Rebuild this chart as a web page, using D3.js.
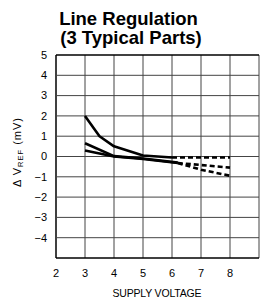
<!DOCTYPE html>
<html><head><meta charset="utf-8">
<script src="https://cdn.jsdelivr.net/npm/d3@7"></script>
<style>body{margin:0;background:#fff}svg{display:block}</style>
</head><body>
<script>
const xTicks = [2,3,4,5,6,7,8];
const yTicks = [5,4,3,2,1,0,-1,-2,-3,-4];
const gridX = [2,3,4,5,6,7,8,9];
const gridY = [5,4,3,2,1,0,-1,-2,-3,-4,-5];
// three typical parts: solid measured part and dashed extension
const partA = [[3,2],[3.5,1],[4,0.5],[5,0.05],[6,-0.05]];
const partB = [[3,0.65],[4,0.02],[5,-0.1],[6.2,-0.3]];
const partC = [[3,0.3],[4,0],[5,-0.12],[6.2,-0.32]];
const dashA = [[6,-0.05],[8,-0.05]];
const dashB = [[6.2,-0.32],[7,-0.42],[8,-0.55]];
const dashC = [[6.2,-0.32],[7,-0.65],[8,-0.95]];

const W=260,H=300;
const svg=d3.select("body").append("svg").attr("width",W).attr("height",H);
const x=d3.scaleLinear().domain([2,9]).range([56,259]);
const y=d3.scaleLinear().domain([-5,5]).range([258,55]);

svg.append("g").selectAll("line").data(gridX).join("line")
 .attr("x1",d=>x(d)).attr("x2",d=>x(d)).attr("y1",y(5)).attr("y2",y(-5))
 .attr("stroke",d=>d===2?"#000":"#444").attr("stroke-width",d=>d===2?1.5:1);
svg.append("g").selectAll("line").data(gridY).join("line")
 .attr("x1",x(2)).attr("x2",x(9)).attr("y1",d=>y(d)).attr("y2",d=>y(d))
 .attr("stroke",d=>(d===5||d===-5)?"#000":"#444").attr("stroke-width",d=>(d===5||d===-5)?1.5:1);

const font="'Liberation Sans', Arial, sans-serif";
svg.append("g").selectAll("text").data(yTicks).join("text")
 .attr("x",47).attr("y",d=>y(d)).attr("dy","0.35em").attr("text-anchor","end")
 .attr("font-family",font).attr("font-size",11).text(d=>d<0?"\u2212"+(-d):d);
svg.append("g").selectAll("text").data(xTicks).join("text")
 .attr("x",d=>x(d)).attr("y",273).attr("dy","0.35em").attr("text-anchor","middle")
 .attr("font-family",font).attr("font-size",11).text(d=>d);

const line=d3.line().x(d=>x(d[0])).y(d=>y(d[1]));
[partA,partB,partC].forEach(p=>svg.append("path").attr("d",line(p)).attr("fill","none")
 .attr("stroke","#000").attr("stroke-width",2.6).attr("stroke-linejoin","round"));
[dashA,dashB,dashC].forEach(p=>svg.append("path").attr("d",line(p)).attr("fill","none")
 .attr("stroke","#000").attr("stroke-width",2.6).attr("stroke-dasharray","5,3"));

svg.append("text").attr("x",128.5).attr("y",25).attr("text-anchor","middle")
 .attr("font-family",font).attr("font-weight","bold").attr("font-size",18.5).text("Line Regulation");
svg.append("text").attr("x",131).attr("y",44).attr("text-anchor","middle")
 .attr("font-family",font).attr("font-weight","bold").attr("font-size",18.5).text("(3 Typical Parts)");

svg.append("text").attr("x",157).attr("y",293).attr("dy","0.35em").attr("text-anchor","middle")
 .attr("font-family",font).attr("font-size",10.5).attr("textLength",89).attr("lengthAdjust","spacing")
 .text("SUPPLY VOLTAGE");

const yl=svg.append("text").attr("transform","translate(21,152) rotate(-90)").attr("text-anchor","middle")
 .attr("font-family",font).attr("font-size",11).attr("letter-spacing",1);
yl.append("tspan").text("\u0394 V");
yl.append("tspan").attr("font-size",7.5).attr("dy",2).text("REF");
yl.append("tspan").attr("dy",-2).text(" (mV)");
</script>
</body></html>
